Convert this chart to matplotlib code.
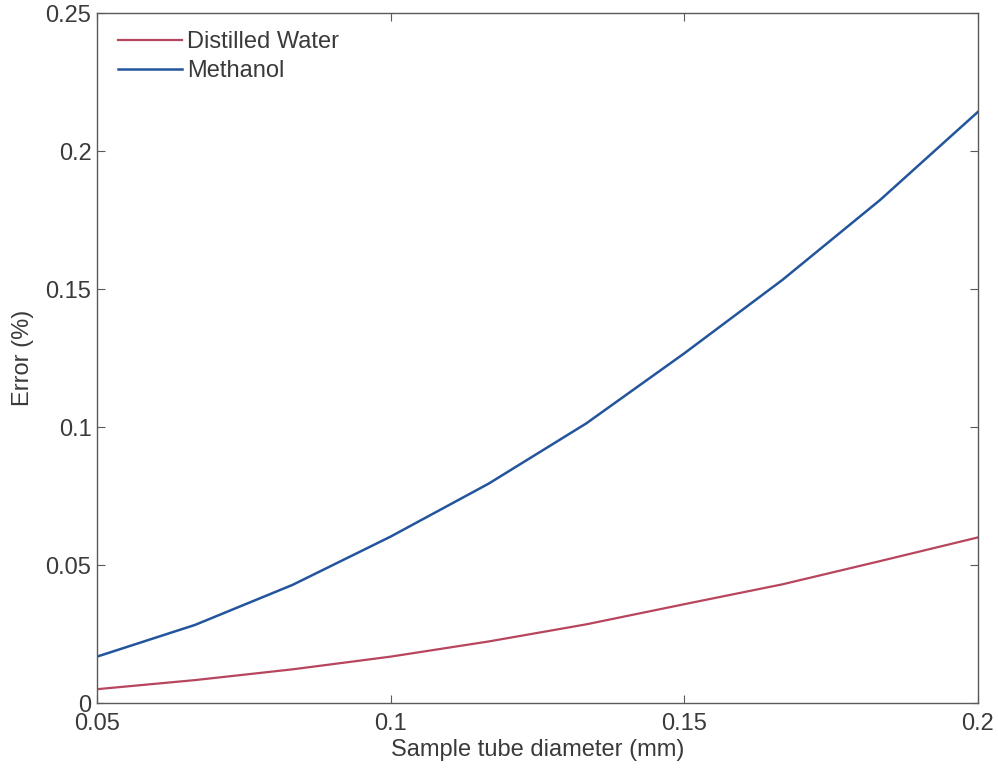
import matplotlib
matplotlib.use("Agg")
import matplotlib.pyplot as plt

plt.rcParams['font.family'] = ['Liberation Sans', 'DejaVu Sans']

# 管径 (mm) 与两种液体的误差 (%)
diameter = [0.05, 0.0667, 0.0833, 0.1, 0.1167, 0.1333, 0.15, 0.1667, 0.1833, 0.2]
err_water = [0.0050, 0.0083, 0.0122, 0.0168, 0.0223, 0.0285, 0.0358, 0.0430, 0.0514, 0.0600]
err_methanol = [0.0168, 0.0283, 0.0428, 0.0603, 0.0795, 0.1013, 0.1267, 0.1533, 0.1822, 0.2142]

x_ticks = [0.05, 0.1, 0.15, 0.2]
x_tick_labels = ["0.05", "0.1", "0.15", "0.2"]
y_ticks = [0, 0.05, 0.1, 0.15, 0.2, 0.25]
y_tick_labels = ["0", "0.05", "0.1", "0.15", "0.2", "0.25"]

text_color = "#3a3a3a"
axis_color = "#5a5a5a"
fs = 17

fig = plt.figure(figsize=(9.98, 7.69), dpi=100)
ax = fig.add_axes([97 / 998, 1 - 703 / 769, 881 / 998, 690 / 769])

ax.plot(diameter, err_water, color="#b8455e", lw=1.6, label="Distilled Water")
ax.plot(diameter, err_methanol, color="#23559c", lw=1.8, label="Methanol")

ax.set_xlim(0.05, 0.2)
ax.set_ylim(0, 0.25)
ax.set_xticks(x_ticks)
ax.set_xticklabels(x_tick_labels)
ax.set_yticks(y_ticks)
ax.set_yticklabels(y_tick_labels)

ax.tick_params(direction="in", length=6, width=0.8, colors=axis_color,
               labelcolor=text_color, labelsize=fs, top=True, right=True)
ax.tick_params(axis="x", pad=7)
ax.tick_params(axis="y", pad=4)
for sp in ax.spines.values():
    sp.set_color(axis_color)
    sp.set_linewidth(1.0)

ax.set_xlabel("Sample tube diameter (mm)", fontsize=fs, color=text_color, labelpad=3)
ax.set_ylabel("Error (%)", fontsize=fs, color=text_color, labelpad=8)

leg = ax.legend(loc="upper left", frameon=False, fontsize=fs, handlelength=2.7,
                handletextpad=0.22, labelspacing=0.3, borderaxespad=0.38,
                bbox_to_anchor=(0.003, 1.0))
for t in leg.get_texts():
    t.set_color(text_color)

fig.savefig("out.png", dpi=100)
